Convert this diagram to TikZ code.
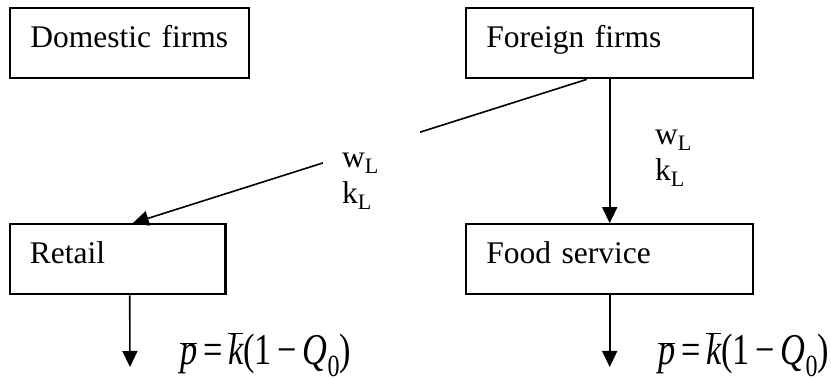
\documentclass[tikz,border=0pt]{standalone}
\usepackage{fontspec}
\setmainfont{Liberation Serif}
\usepackage{graphicx}
\usetikzlibrary{arrows.meta}

\tikzset{
    firmbox/.style={draw, line width=2.2pt, inner xsep=20pt, inner ysep=0pt,
        text height=39pt, text depth=31pt, align=left,
        font=\fontsize{31.5}{35}\selectfont},
    flow/.style={line width=1.6pt, -{Triangle[width=15pt,length=16pt]}},
    lbl/.style={fill=white, inner xsep=19pt, inner ysep=3pt, text width=59pt,
        align=left, font=\fontsize{31.5}{36}\selectfont},
    eqn/.style={inner sep=0pt, font=\fontsize{44}{48}\selectfont},
}
\newcommand{\obar}[1]{\ensuremath{\overline{\vphantom{k}\hbox{\itshape #1}}}}
\newcommand{\price}{\scalebox{0.78}[1]{\obar{p}\,=\,\obar{k}(1\,−\,\textit{Q}\textsubscript{0})}}

\begin{document}
\begin{tikzpicture}[x=1pt, y=-1pt]
    \useasboundingbox (0,0) rectangle (831,379);
    \draw
    (129.7,43.3) node[firmbox, text width=198.7pt] (df) {Domestic firms}
    (609.7,43.3) node[firmbox, text width=246.7pt] (ff) {Foreign firms}
    (117.7,259.3) node[firmbox, text width=175.7pt] (rt) {Retail}
    (609.7,259.3) node[firmbox, text width=246.7pt] (fs) {Food service}
    ;
    \coordinate (rtout) at (130,367);
    \coordinate (fsout) at (609.7,367);
    \draw[flow] ([xshift=-23pt]ff.south) -- ([xshift=15pt]rt.north);
    \draw[flow] (ff) -- (fs);
    \draw[flow] ([xshift=12pt]rt.south) -- (rtout);
    \draw[flow] (fs) -- (fsout);
    % labels on the links
    \node[lbl, anchor=base west] (rtlink) at (323,168) {\rule{0pt}{38pt}w\textsubscript{L}\\k\textsubscript{L}};
    \node[lbl, anchor=base west] (fslink) at (636,145) {w\textsubscript{L}\\k\textsubscript{L}};
    \node[eqn, anchor=base west] (rtprice) at (180,365) {\price};
    \node[eqn, anchor=base west] (fsprice) at (658,365) {\price};
\end{tikzpicture}
\end{document}
